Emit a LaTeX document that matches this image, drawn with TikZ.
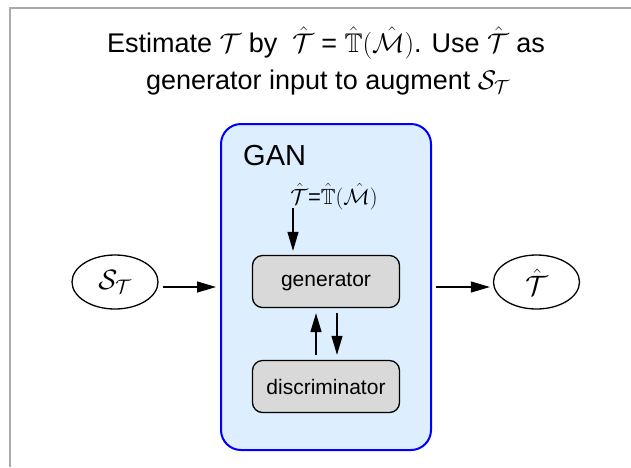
\RequirePackage{fix-cm}
\documentclass[tikz,border=0pt]{standalone}
\usepackage{amsmath,amssymb}
\usepackage{fontspec}
\setmainfont{Liberation Sans}
\usetikzlibrary{arrows.meta,shapes.geometric}
\definecolor{ganblue}{RGB}{221,238,255}
\definecolor{boxgray}{RGB}{217,217,217}
\definecolor{framegray}{RGB}{170,170,170}
\tikzset{
  arr/.style={line width=1.3pt,-{Triangle[length=19pt,width=11pt]}},
  rbox/.style={draw,line width=1.3pt,fill=boxgray,rounded corners=10pt,
    minimum width=147pt,minimum height=52pt,inner sep=0pt,
    font=\fontsize{21}{25}\selectfont},
  ell/.style={ellipse,draw,line width=1.3pt,minimum width=86pt,
    minimum height=54pt,inner sep=0pt,font=\fontsize{28}{32}\selectfont},
  ganbox/.style={draw=blue,line width=2pt,fill=ganblue,rounded corners=20pt,
    minimum width=210pt,minimum height=326pt,inner sep=0pt},
  ttl/.style={anchor=base,font=\fontsize{27}{32}\selectfont,inner sep=0pt}
}
\begin{document}
\begin{tikzpicture}[x=1pt,y=-1pt]
\useasboundingbox (0,0) rectangle (631,467);
\draw[framegray,line width=2pt] (631,8) -- (9.5,8) -- (9.5,467);

\node[ttl] (t1) at (326,52) {Estimate $\mathcal{T}$ by \ $\hat{\mathcal{T}}$ = $\hat{\mathbb{T}}(\hat{\mathcal{M}})$. Use $\hat{\mathcal{T}}$ as};
\node[ttl] (t2) at (328,89) {generator input to augment $\mathcal{S}_{\mathcal{T}}$};

\node[ganbox] (gan) at (326,287) {};
\node[anchor=base west,inner sep=0pt,font=\fontsize{29}{32}\selectfont] (ganlbl) at (243,165) {GAN};
\node[anchor=base,inner sep=0pt,font=\fontsize{22}{26}\selectfont] (tin) at (334,204) {$\hat{\mathcal{T}}\text{=}\hat{\mathbb{T}}(\hat{\mathcal{M}})$};

\node[rbox] (gen) at (326,281.5) {generator};
\node[rbox] (disc) at (326,386.5) {discriminator};

\node[ell] (sT) at (115,282) {$\mathcal{S}_{\mathcal{T}}$};
\node[ell] (That) at (536.5,282) {$\hat{\mathcal{T}}$};

\coordinate (tinfoot) at (293,208);
\draw[arr,shorten >=4pt] (tinfoot) -- (tinfoot |- gen.north);
\draw[arr,shorten <=5pt,shorten >=5pt] ([xshift=-10pt]disc.north) -- ([xshift=-10pt]gen.south);
\draw[arr,shorten <=5pt,shorten >=5pt] ([xshift=11pt]gen.south) -- ([xshift=11pt]disc.north);
\draw[arr,shorten <=4pt,shorten >=4pt] (sT.east |- gan.west) -- (gan.west);
\draw[arr,shorten <=4pt,shorten >=3pt] (gan.east) -- (That.west |- gan.east);
\end{tikzpicture}
\end{document}
